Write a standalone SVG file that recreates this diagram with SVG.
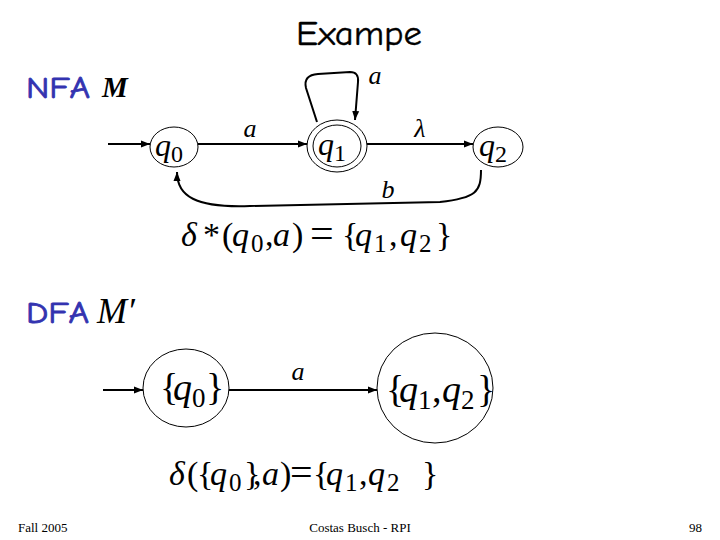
<svg xmlns="http://www.w3.org/2000/svg" width="720" height="540" viewBox="0 0 720 540">
<defs>
<marker id="arr" markerWidth="10" markerHeight="8" refX="9" refY="4" orient="auto" markerUnits="userSpaceOnUse">
<path d="M0,0.5 L9,4 L0,7.5 Z" fill="#000"/>
</marker>
<style>
.st{fill:#fff;stroke:#000;stroke-width:1}
.ed{fill:none;stroke:#000;stroke-width:2;marker-end:url(#arr)}
.lb{font-family:"Liberation Serif",serif;font-style:italic;fill:#000}
.q{font-family:"Liberation Serif",serif;font-style:italic;font-size:32px;fill:#000}
.m{font-family:"Liberation Serif",serif;fill:#000}
.i{font-style:italic}
.hd{font-family:"Comic Neue","DejaVu Sans",sans-serif;fill:#3333b0;stroke:#3333b0;stroke-width:0.8}
.ft{font-family:"Liberation Serif",serif;font-size:13px;fill:#000}
</style>
</defs>
<rect width="720" height="540" fill="#fff"/>
<text x="296" y="45" font-family="'Comic Neue','DejaVu Sans',sans-serif" font-size="35" fill="#000" stroke="#000" stroke-width="0.4" textLength="126" lengthAdjust="spacingAndGlyphs">Exampe</text>
<text x="26" y="98" class="hd" font-size="31" textLength="64" lengthAdjust="spacingAndGlyphs">NFA</text>
<text x="102" y="97" class="lb" font-weight="bold" font-size="29">M</text>
<text x="26" y="323" class="hd" font-size="31" textLength="63" lengthAdjust="spacingAndGlyphs">DFA</text>
<text x="97" y="323" class="lb" font-size="36">M′</text>

<g id="connectors">
<path class="ed" d="M108,144 L150,144"/>
<path class="ed" d="M198,144 L307,144"/>
<path class="ed" d="M367,144 L473,144"/>
<path class="ed" d="M317,122 L306,88 Q303,75 318,74 L350,72 Q359,72 358,82 L355,120"/>
<path class="ed" d="M481,170 C481,192 476,198 440,202 L250,206 C195,208 177,196 177,172"/>
<path class="ed" d="M103,390 L143,390"/>
<path class="ed" d="M229,390 L377,390"/>
</g>
<text x="250" y="137" class="lb" font-size="26" text-anchor="middle">a</text>
<text x="420" y="137" class="lb" font-size="26" text-anchor="middle">λ</text>
<text x="375" y="84" class="lb" font-size="26" text-anchor="middle">a</text>
<text x="388" y="198" class="lb" font-size="26" text-anchor="middle">b</text>
<text x="298" y="380" class="lb" font-size="26" text-anchor="middle">a</text>

<g id="q0">
<ellipse class="st" cx="174" cy="147" rx="24" ry="20"/>
<text x="155" y="156" class="q">q<tspan font-size="24" font-style="normal" dy="6">0</tspan></text>
</g>
<g id="q1">
<ellipse class="st" cx="337" cy="146" rx="30" ry="26"/>
<ellipse class="st" cx="337" cy="146" rx="24" ry="21"/>
<text x="318" y="155" class="q">q<tspan font-size="24" font-style="normal" dy="6">1</tspan></text>
</g>
<g id="q2">
<ellipse class="st" cx="498" cy="147" rx="25" ry="20"/>
<text x="479" y="156" class="q">q<tspan font-size="24" font-style="normal" dy="6">2</tspan></text>
</g>

<text class="m" font-size="34" y="246"><tspan x="181" class="i">δ</tspan><tspan x="203">*</tspan><tspan x="222">(</tspan><tspan x="232" class="i">q</tspan><tspan x="251" dy="6" font-size="25">0</tspan><tspan x="265" dy="-6">,</tspan><tspan x="273" class="i">a</tspan><tspan x="292">)</tspan><tspan x="310" font-size="42" dy="1">=</tspan><tspan x="342" dy="-1">{</tspan><tspan x="355" class="i">q</tspan><tspan x="374" dy="6" font-size="25">1</tspan><tspan x="389" dy="-6">,</tspan><tspan x="400" class="i">q</tspan><tspan x="419" dy="6" font-size="25">2</tspan><tspan x="436" dy="-6">}</tspan></text>

<g id="dq0">
<ellipse class="st" cx="186" cy="388" rx="43" ry="39"/>
<text class="m" font-size="38" y="400"><tspan x="160">{</tspan><tspan x="173" class="i">q</tspan><tspan x="192" dy="7" font-size="27">0</tspan><tspan x="206" dy="-7">}</tspan></text>
</g>
<g id="dq12">
<ellipse class="st" cx="435" cy="388" rx="58" ry="55"/>
<text class="m" font-size="38" y="402"><tspan x="386">{</tspan><tspan x="399" class="i">q</tspan><tspan x="418" dy="7" font-size="27">1</tspan><tspan x="432" dy="-7">,</tspan><tspan x="442" class="i">q</tspan><tspan x="461" dy="7" font-size="27">2</tspan><tspan x="477" dy="-7">}</tspan></text>
</g>

<text class="m" font-size="34" y="485"><tspan x="169" class="i">δ</tspan><tspan x="187">(</tspan><tspan x="197">{</tspan><tspan x="210" class="i">q</tspan><tspan x="229" dy="6" font-size="25">0</tspan><tspan x="244" dy="-6">}</tspan><tspan x="253">,</tspan><tspan x="262" class="i">a</tspan><tspan x="280">)</tspan><tspan x="290" font-size="40" dy="1">=</tspan><tspan x="313" dy="-1">{</tspan><tspan x="326" class="i">q</tspan><tspan x="345" dy="6" font-size="25">1</tspan><tspan x="359" dy="-6">,</tspan><tspan x="368" class="i">q</tspan><tspan x="387" dy="6" font-size="25">2</tspan><tspan x="422" dy="-6">}</tspan></text>

<text x="18" y="532" class="ft">Fall 2005</text>
<text x="360" y="532" class="ft" text-anchor="middle">Costas Busch - RPI</text>
<text x="702" y="532" class="ft" text-anchor="end">98</text>
</svg>
